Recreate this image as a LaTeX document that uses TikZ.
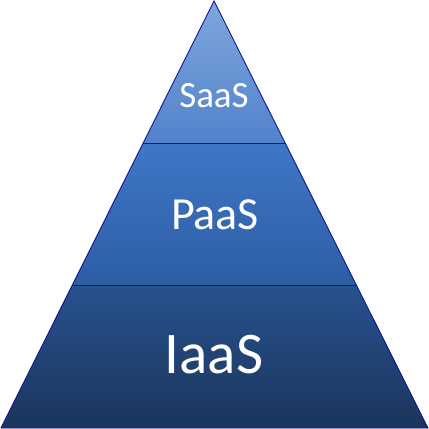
\documentclass[tikz,border=0pt]{standalone}
\usepackage{fontspec}
\setmainfont{Carlito}
\usetikzlibrary{calc}
\definecolor{edgeblue}{HTML}{12139A}
\definecolor{sTop}{HTML}{7FA7DE}
\definecolor{sBot}{HTML}{5282CA}
\definecolor{pTop}{HTML}{3F76C6}
\definecolor{pBot}{HTML}{2D5EA4}
\definecolor{iTop}{HTML}{27528E}
\definecolor{iBot}{HTML}{1B355B}
\tikzset{
  layer/.style={draw=edgeblue, line width=0.9pt, line join=miter},
  lbl/.style={text=white, anchor=base, inner sep=0pt}
}
\begin{document}
\begin{tikzpicture}[x=1pt,y=-1pt]
\useasboundingbox (0,0) rectangle (429,429);
\coordinate (apex) at (214,1);
\coordinate (bl) at (1,428);
\coordinate (br) at (428,428);
\coordinate (l1) at ($(apex)!0.3326!(bl)$);
\coordinate (r1) at ($(apex)!0.3326!(br)$);
\coordinate (l2) at ($(apex)!0.6651!(bl)$);
\coordinate (r2) at ($(apex)!0.6651!(br)$);
\shade[top color=sTop, bottom color=sBot] (apex) -- (r1) -- (l1) -- cycle;
\shade[top color=pTop, bottom color=pBot] (l1) -- (r1) -- (r2) -- (l2) -- cycle;
\shade[top color=iTop, bottom color=iBot] (l2) -- (r2) -- (br) -- (bl) -- cycle;
\draw[layer] (apex) -- (br) -- (bl) -- cycle;
\draw[layer] (l1) -- (r1);
\draw[layer] (l2) -- (r2);
\node[lbl, font=\fontsize{37}{40}\selectfont] (saas) at (214,107) {SaaS};
\node[lbl, font=\fontsize{46}{50}\selectfont] (paas) at (215,229) {PaaS};
\node[lbl, font=\fontsize{59}{64}\selectfont] (iaas) at (214,373) {IaaS};
\end{tikzpicture}
\end{document}
